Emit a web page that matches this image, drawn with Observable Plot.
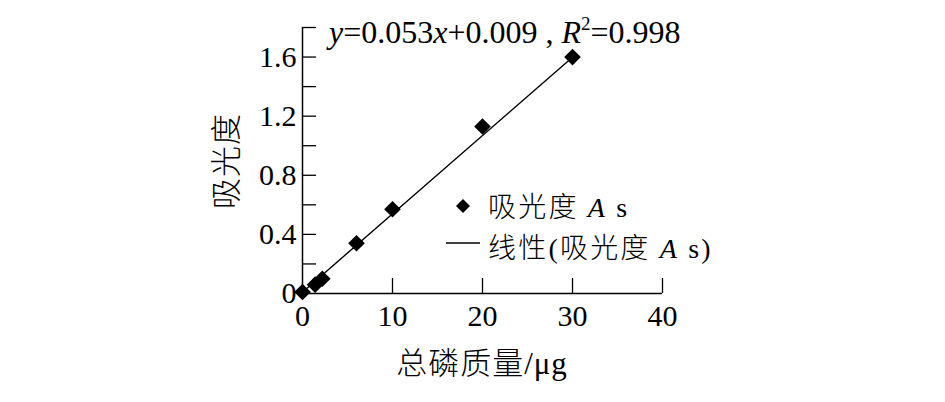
<!DOCTYPE html>
<html>
<head>
<meta charset="utf-8">
<script src="https://cdn.jsdelivr.net/npm/d3@7"></script>
<script src="https://cdn.jsdelivr.net/npm/@observablehq/plot@0.6"></script>
<style>
  html, body { margin: 0; padding: 0; background: #fff; }
  #wrap { position: relative; width: 945px; height: 402px; overflow: hidden;
          font-family: "Liberation Serif", "Noto Sans CJK SC", serif; color: #000; }
  #chart { position: absolute; left: 0; top: 0; }
  .txt { position: absolute; white-space: nowrap; line-height: 1; }
  .txt span, .txt i { display: inline-block; line-height: 1; }
  .cjk { font-family: "Noto Sans CJK SC", sans-serif; font-weight: 300; }
  #ytitle { left: 223px; top: 161px; font-size: 31px; letter-spacing: 1px; transform: translate(-50%, -50%) rotate(-90deg); }
  #xtitle { left: 482px; top: 362px; font-size: 31px; letter-spacing: 1px; transform: translate(-50%, -50%); }
  #eq { left: 329px; top: 16px; font-size: 32px; }
  #eq sup { font-size: 19px; vertical-align: 13px; line-height: 0; }
  .leg { left: 488px; font-size: 28px; letter-spacing: 2.2px; height: 28px; transform: translateY(-50%); }
</style>
</head>
<body>
<div id="wrap">
  <div id="chart"></div>
</div>
<script>
// Data
const mass = [0, 1.4, 2.2, 6, 10, 20, 30];                      // 总磷质量 / μg
const absorbance = [0.01, 0.06, 0.10, 0.34, 0.57, 1.13, 1.60];  // 吸光度 As
const fitSlope = 0.053;
const fitIntercept = 0.009;
const fitRange = [0, 30];
const yTicks = [0.2, 0.4, 0.6, 0.8, 1.0, 1.2, 1.4, 1.6, 1.8];
const yLabels = [0, 0.4, 0.8, 1.2, 1.6];
const xTicks = [10, 20, 30, 40];
const xLabels = [0, 10, 20, 30, 40];
const yTitle = "吸光度";
const xTitle = "总磷质量/μg";

const points = mass.map((m, i) => ({x: m, y: absorbance[i]}));
const fit = fitRange.map(x => ({x, y: fitSlope * x + fitIntercept}));

const chart = Plot.plot({
  width: 945,
  height: 402,
  marginLeft: 302,
  marginRight: 283,
  marginTop: 27,
  marginBottom: 109,
  style: {fontFamily: "'Liberation Serif', serif", fontSize: "30px", background: "transparent", color: "#000"},
  x: {domain: [0, 40]},
  y: {domain: [0, 1.8]},
  marks: [
    Plot.axisY(yTicks, {tickSize: -14, tickFormat: () => "", label: null, stroke: "#000", strokeWidth: 1.3}),
    Plot.axisY(yLabels, {tickSize: 0, tickPadding: 6, fontSize: 30, tickFormat: d => d === 0 ? "0" : d3.format(".1f")(d), label: null, fill: "#000"}),
    Plot.axisX(xTicks, {tickSize: -15, tickFormat: () => "", label: null, stroke: "#000", strokeWidth: 1.3}),
    Plot.axisX(xLabels, {tickSize: 0, tickPadding: 11, fontSize: 30, tickFormat: d => String(d), label: null, fill: "#000"}),
    Plot.ruleX([0], {stroke: "#000", strokeWidth: 1.5}),
    Plot.ruleY([0], {stroke: "#000", strokeWidth: 1.5}),
    Plot.line(fit, {x: "x", y: "y", stroke: "#000", strokeWidth: 1.4}),
    Plot.dot(points, {x: "x", y: "y", symbol: "diamond2", r: 7.5, fill: "#000", stroke: "none"})
  ]
});
document.getElementById("chart").appendChild(chart);

const wrap = document.getElementById("wrap");
function addDiv(id, cls, html, style) {
  const d = document.createElement("div");
  if (id) d.id = id;
  d.className = cls;
  d.innerHTML = html;
  if (style) Object.assign(d.style, style);
  wrap.appendChild(d);
  return d;
}
addDiv("ytitle", "txt cjk", yTitle);
addDiv("xtitle", "txt", xTitle.replace(/[\u4e00-\u9fff]+/g, s => `<span class="cjk">${s}</span>`));
addDiv("eq", "txt", `<i>y</i>=${fitSlope}<i>x</i>+0.00${Math.round(fitIntercept * 1000)} , <i>R</i><sup>2</sup>=0.998`);

// Legend
const legSvg = `<svg width="40" height="20" style="position:absolute;left:445px;top:196px;overflow:visible">
  <path d="M18,3 L25,10 L18,17 L11,10 Z" fill="#000"/></svg>
  <svg width="40" height="10" style="position:absolute;left:446px;top:238px;overflow:visible">
  <line x1="0" y1="5" x2="34" y2="5" stroke="#000" stroke-width="1.6"/></svg>`;
wrap.insertAdjacentHTML("beforeend", legSvg);
addDiv(null, "txt leg", `<span class="cjk">吸光度</span> <i>A</i> s`, {top: "205px"});
addDiv(null, "txt leg", `<span class="cjk">线性</span>(<span class="cjk">吸光度</span> <i>A</i> s)`, {top: "246px"});
</script>
</body>
</html>
